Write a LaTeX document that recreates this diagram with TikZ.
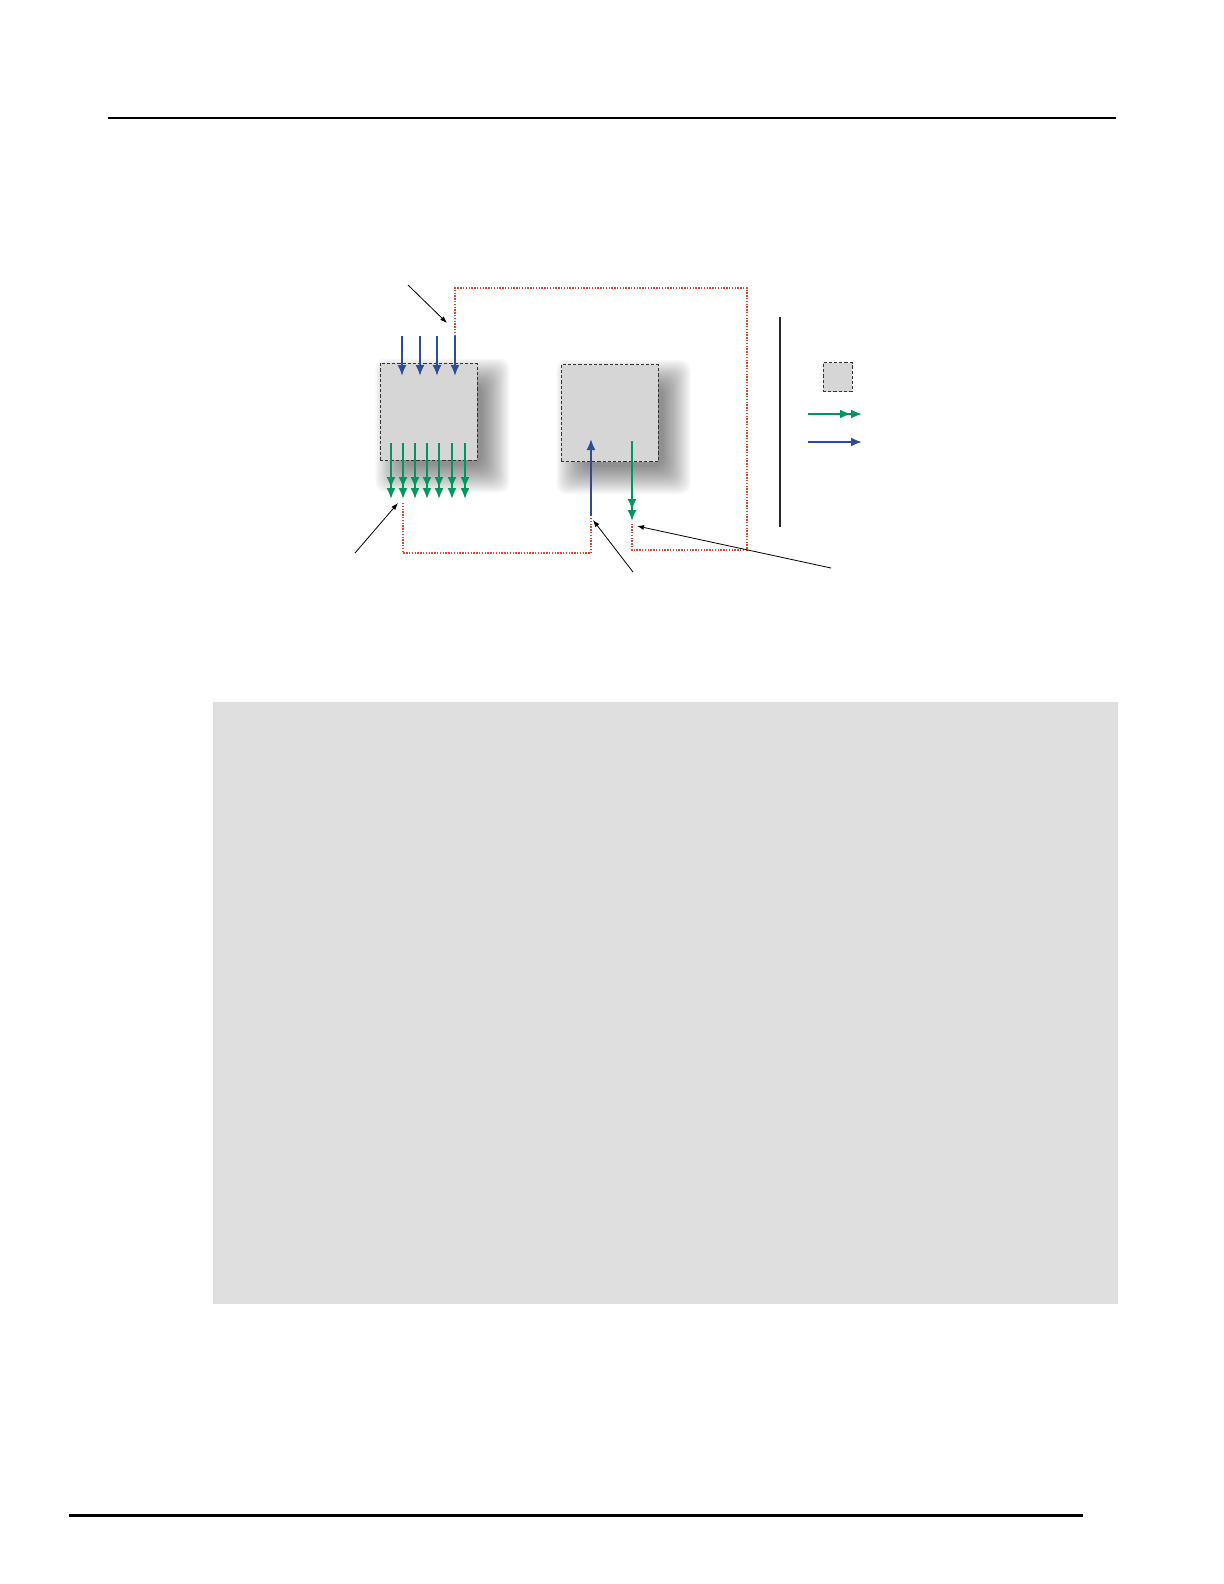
\documentclass[tikz,border=0pt]{standalone}
\usepackage{xcolor}
\usepackage{tikz}
\usetikzlibrary{arrows.meta}

\definecolor{sigblue}{RGB}{43,76,155}
\definecolor{siggreen}{RGB}{0,150,95}
\definecolor{linkred}{RGB}{232,65,44}
\definecolor{boxgray}{RGB}{214,214,214}
\definecolor{panelgray}{RGB}{223,223,223}

\tikzset{
    unitbox/.style={draw=black!80,dash pattern=on 1.6pt off 1pt,fill=boxgray,line width=0.5pt,minimum size=48.5pt,inner sep=0pt},
    inarrow/.style={sigblue,line width=0.95pt,-{Latex[length=5.5pt,width=4.5pt]}},
    outarrow/.style={siggreen,line width=0.95pt,-{Latex[length=5.5pt,width=4.5pt]Latex[length=5.5pt,width=4.5pt]}},
    link/.style={linkred,line width=1.2pt,dash pattern=on 0.7pt off 0.7pt},
    callout/.style={black,line width=0.4pt,-{Latex[length=3.5pt,width=2.5pt]}},
}

% soft shadow to the lower right of a box
\newcommand{\softshadow}[1]{
    \foreach \k in {0,...,17}
        \fill[black,opacity=0.032,rounded corners=5pt]
            ([xshift={(\k*0.8-2)*1pt},yshift={(\k*0.8-16)*1pt}]#1.south west) rectangle
            ([xshift={(16-\k*0.8)*1pt},yshift={(2-\k*0.8)*1pt}]#1.north east);
}

\begin{document}
\begin{tikzpicture}[x=0.5pt,y=-0.5pt]
    \useasboundingbox (0,0) rectangle (1224,1584);

    % page rules and panel
    \draw[line width=0.75pt] (108,118) -- (1116,118);
    \draw[line width=1.5pt] (69,1515) -- (1083,1515);
    \fill[panelgray] (213,702) rectangle (1118,1304);

    % boxes
    \coordinate (srcpos) at (428.5,411.5);
    \coordinate (dstpos) at (609.5,413);
    \path (srcpos) node[unitbox,draw=none,fill=none] (srcghost) {};
    \path (dstpos) node[unitbox,draw=none,fill=none] (dstghost) {};
    \softshadow{srcghost}
    \softshadow{dstghost}
    \node[unitbox] (srcbox) at (srcpos) {};
    \node[unitbox] (dstbox) at (dstpos) {};

    % inputs and outputs of the left box
    \foreach \x [count=\i] in {402,420,437,455} {
        \coordinate (ina\i) at (\x,336);
        \coordinate (inb\i) at (\x,376);
        \draw[inarrow] (ina\i) -- (inb\i);
    }
    \foreach \x [count=\i] in {391,403,415,427,439,452,465} {
        \coordinate (outa\i) at (\x,443);
        \coordinate (outb\i) at (\x,499);
        \draw[outarrow] (outa\i) -- (outb\i);
    }

    % inputs and outputs of the right box
    \coordinate (rina) at (591,516);
    \coordinate (rinb) at (591,439);
    \draw[inarrow] (rina) -- (rinb);
    \coordinate (routa) at (632,441);
    \coordinate (routb) at (632,521);
    \draw[outarrow] (routa) -- (routb);

    % dotted links
    \coordinate (lnkend) at (632,524);
    \coordinate (lnkstart) at (591,518);
    \coordinate (lnkleft) at (403,502);
    \draw[link] (ina4) |- (747,288) -- (747,550) -| (lnkend);
    \draw[link] (lnkstart) |- (lnkleft |- 0,553) -- (lnkleft);

    % callouts
    \coordinate (ca1) at (408,285);  \coordinate (cb1) at (447,323);
    \coordinate (ca2) at (355,553);  \coordinate (cb2) at (398,503);
    \coordinate (ca3) at (633,572);  \coordinate (cb3) at (593,520);
    \coordinate (ca4) at (831,568);  \coordinate (cb4) at (637,526);
    \foreach \i in {1,...,4}
        \draw[callout] (ca\i) -- (cb\i);

    % legend
    \coordinate (bara) at (780,317);
    \coordinate (barb) at (780,527);
    \draw[line width=1.2pt,black!85] (bara) -- (barb);
    \node[unitbox,minimum size=14.5pt] (keybox) at (837.5,377) {};
    \coordinate (keyga) at (808,414);  \coordinate (keygb) at (862,414);
    \coordinate (keyba) at (808,442);  \coordinate (keybb) at (862,442);
    \draw[outarrow] (keyga) -- (keygb);
    \draw[inarrow] (keyba) -- (keybb);
\end{tikzpicture}
\end{document}
